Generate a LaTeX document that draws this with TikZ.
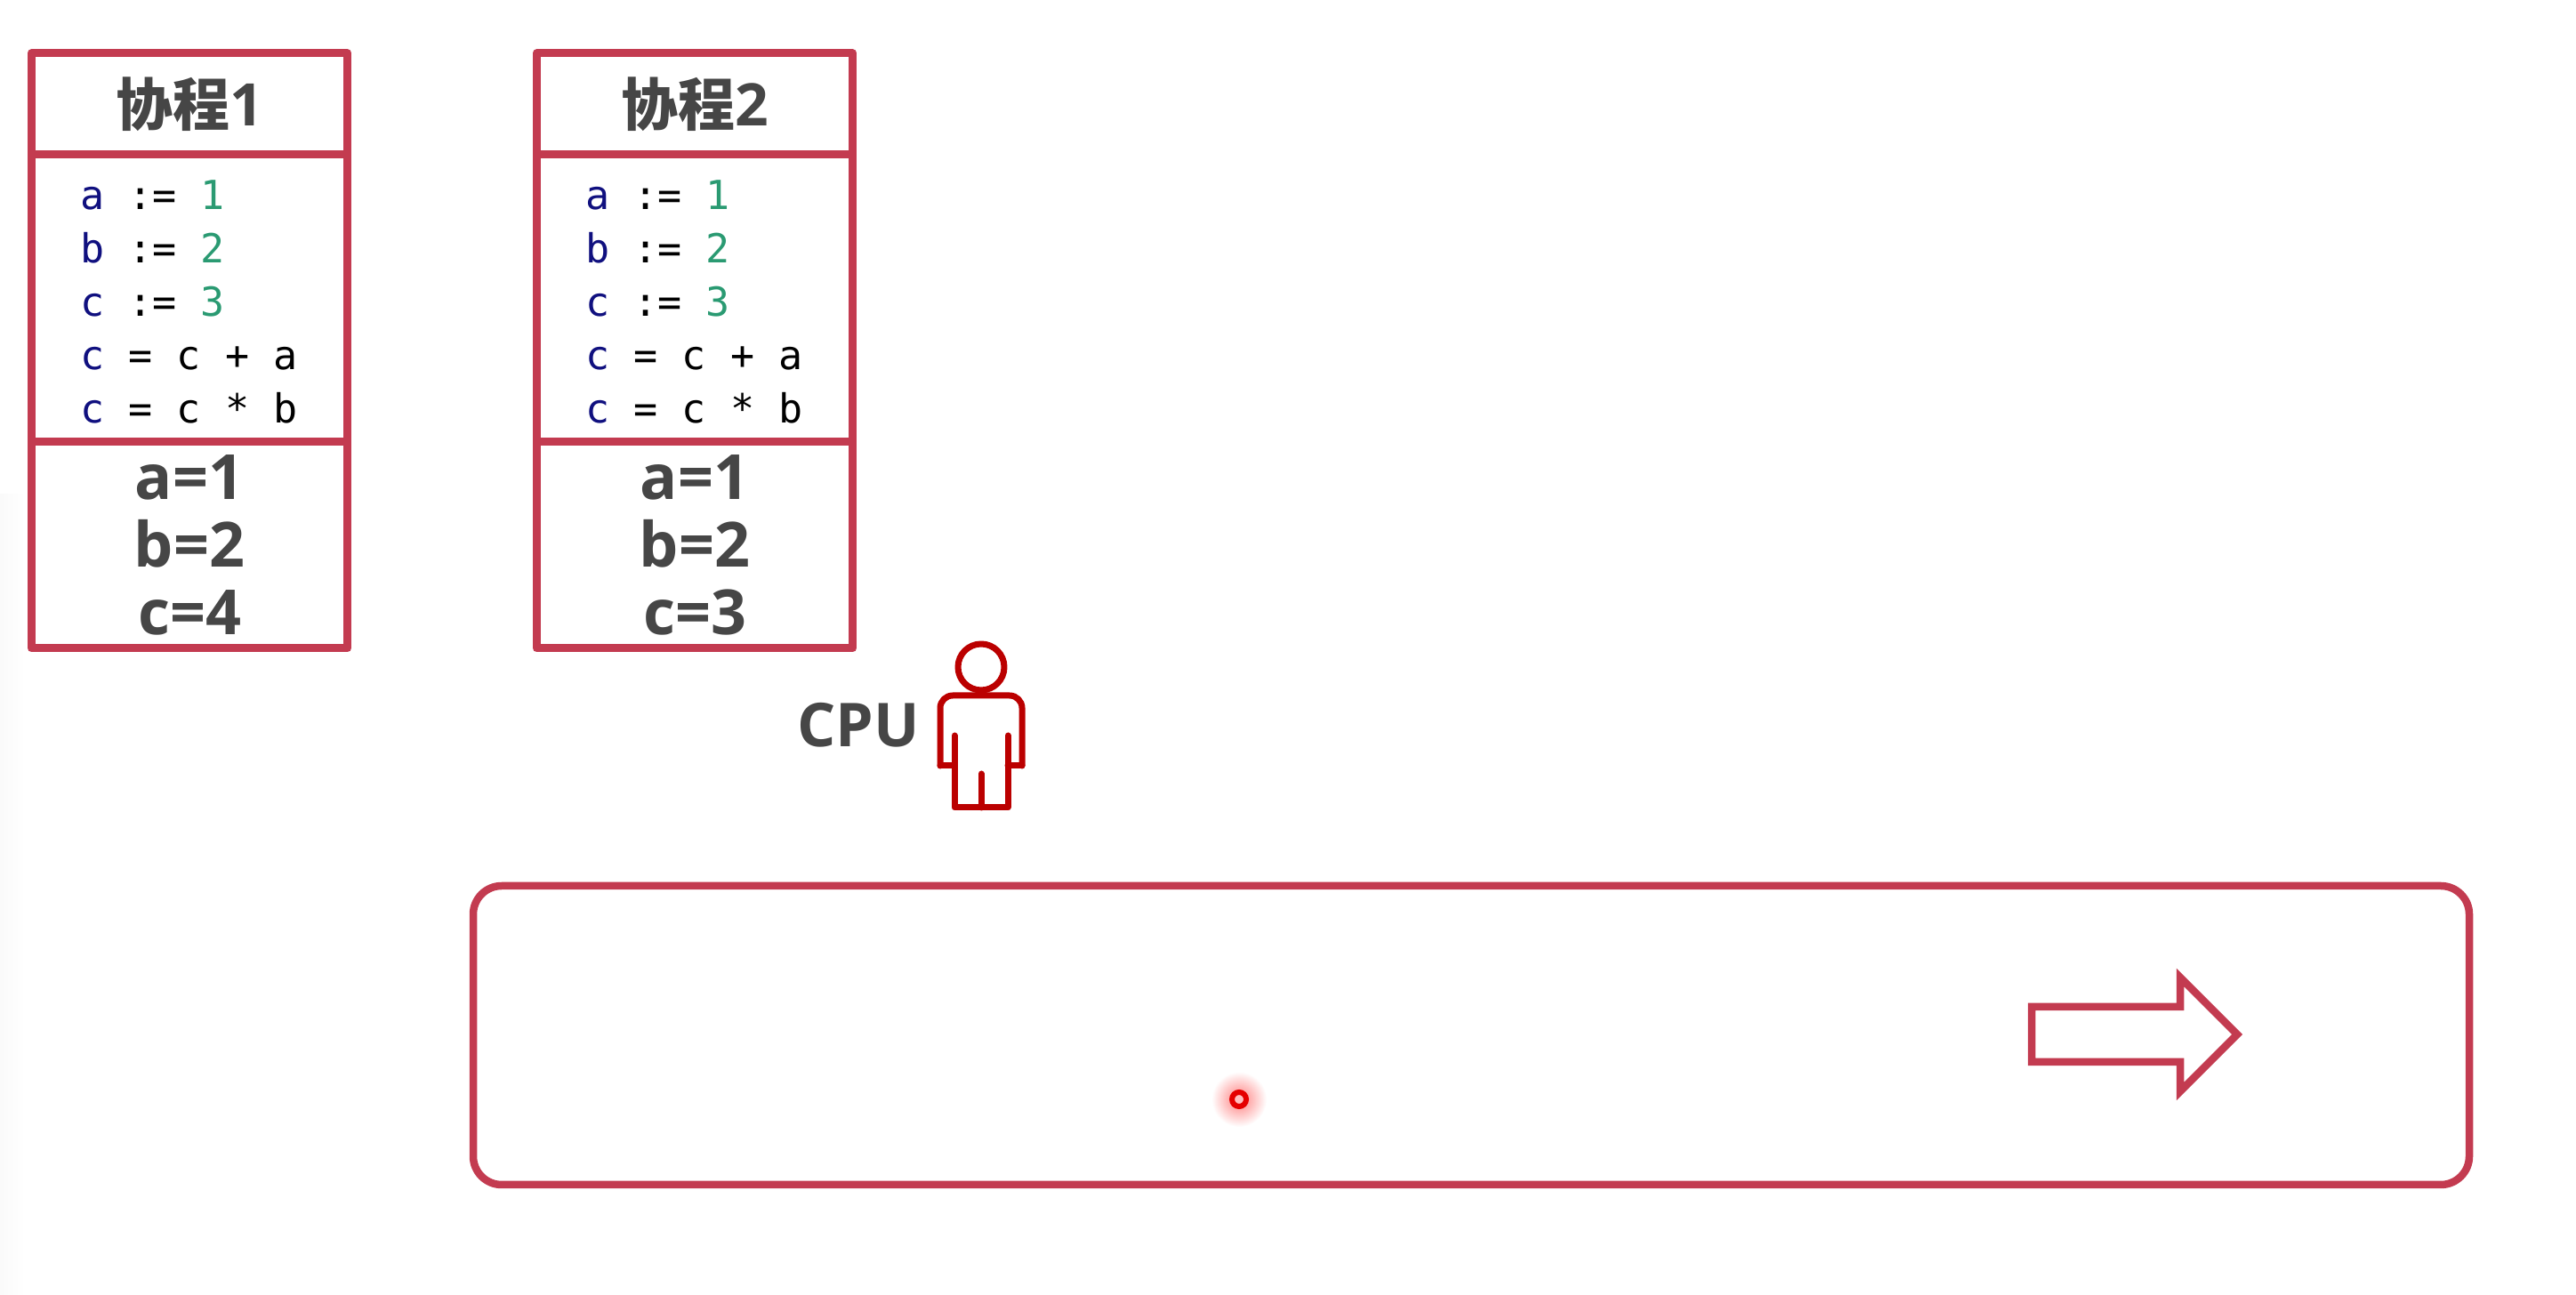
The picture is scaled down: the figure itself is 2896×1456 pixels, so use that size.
\documentclass[tikz,border=0pt]{standalone}
\usepackage{fontspec}
\usetikzlibrary{positioning}
\setmainfont{Open Sans}
\newfontfamily\cjkfont{Noto Sans CJK SC}
\newfontfamily\codefont{DejaVu Sans Mono}
\definecolor{boxred}{HTML}{C33B50}
\definecolor{manred}{HTML}{BB0000}
\definecolor{textgray}{HTML}{464646}
\definecolor{varblue}{HTML}{10107F}
\definecolor{numgreen}{HTML}{2A9A72}
\newcommand{\varname}[1]{\textcolor{varblue}{#1}}
\newcommand{\numval}[1]{\textcolor{numgreen}{#1}}
\newcommand{\titledigit}[1]{{\rmfamily\bfseries\fontsize{66}{66}\selectfont #1}}
\newcommand{\codelines}{\spaceskip=27.1pt\relax\rule{0pt}{40pt}\varname{a} := \numval{1}\\ \varname{b} := \numval{2}\\ \varname{c} := \numval{3}\\ \varname{c} = c + a\\ \varname{c} = c * b}

\begin{document}
\begin{tikzpicture}[x=1pt, y=1pt, node distance=0pt,
    cell/.style = {draw=boxred, line width=9pt, line join=round, minimum width=355.5pt, outer sep=0pt, inner sep=0pt},
    title/.style = {cell, minimum height=114pt, text=textgray, font=\cjkfont\bfseries\fontsize{64}{64}\selectfont},
    code/.style = {cell, minimum height=323pt, text width=245pt, align=left, font=\codefont\fontsize{45}{60}\selectfont},
    vals/.style = {cell, minimum height=232pt, align=center, text=textgray, font=\bfseries\fontsize{70}{76}\selectfont},
    man/.style = {draw=manred, line width=7pt, line join=round, line cap=round}]
    \useasboundingbox (0,0) rectangle (2896,1456);
    \shade[left color=black!2, right color=white, draw=none] (0,0) rectangle (28,900);
    \node[title] (title1) at (213,1339) {协程\titledigit{1}};
    \node[code] (code1) [below=of title1] {\codelines};
    \node[vals] (vals1) [below=of code1] {a=1\\ b=2\\ c=4};
    \node[title] (title2) [right=212.5pt of title1] {协程\titledigit{2}};
    \node[code] (code2) [below=of title2] {\codelines};
    \node[vals] (vals2) [below=of code2] {a=1\\ b=2\\ c=3};
    \node[circle, man, minimum size=52pt, inner sep=0pt] (head) at (1103,706) {};
    \node[text=textgray, font=\bfseries\fontsize{68}{68}\selectfont] (cpu) at (965,641) {CPU};
    % body of the man
    \draw[man, rounded corners=14pt] (1057,595) -- (1057,674) -- (1149,674) -- (1149,595);
    \draw[man] (1057,595) -- (1073,595);
    \draw[man] (1149,595) -- (1133,595);
    \draw[man] (1073,629) -- (1073,548) -- (1133,548) -- (1133,629);
    \draw[man] (1103,586) -- (1103,548);
    \node[draw=boxred, line width=8.5pt, rounded corners=32pt, minimum width=2244pt, minimum height=336pt] (track) at (1654,292) {};
    % arrow inside the track
    \coordinate (arrowtail) at (2284,293);
    \draw[boxred, line width=8.5pt, miter limit=10] (arrowtail) ++(0,31) -- ++(167,0) -- ++(0,33) -- ++(64,-64) -- ++(-64,-64) -- ++(0,33) -- ++(-167,0) -- cycle;
    % laser pointer
    \shade[inner color=red!50, outer color=white, draw=none] (1393,220) circle (31pt);
    \node[circle, draw=red!90!black, line width=6pt, minimum size=16pt, inner sep=0pt, fill=red!25] (pointer) at (1393,220) {};
\end{tikzpicture}
\end{document}
